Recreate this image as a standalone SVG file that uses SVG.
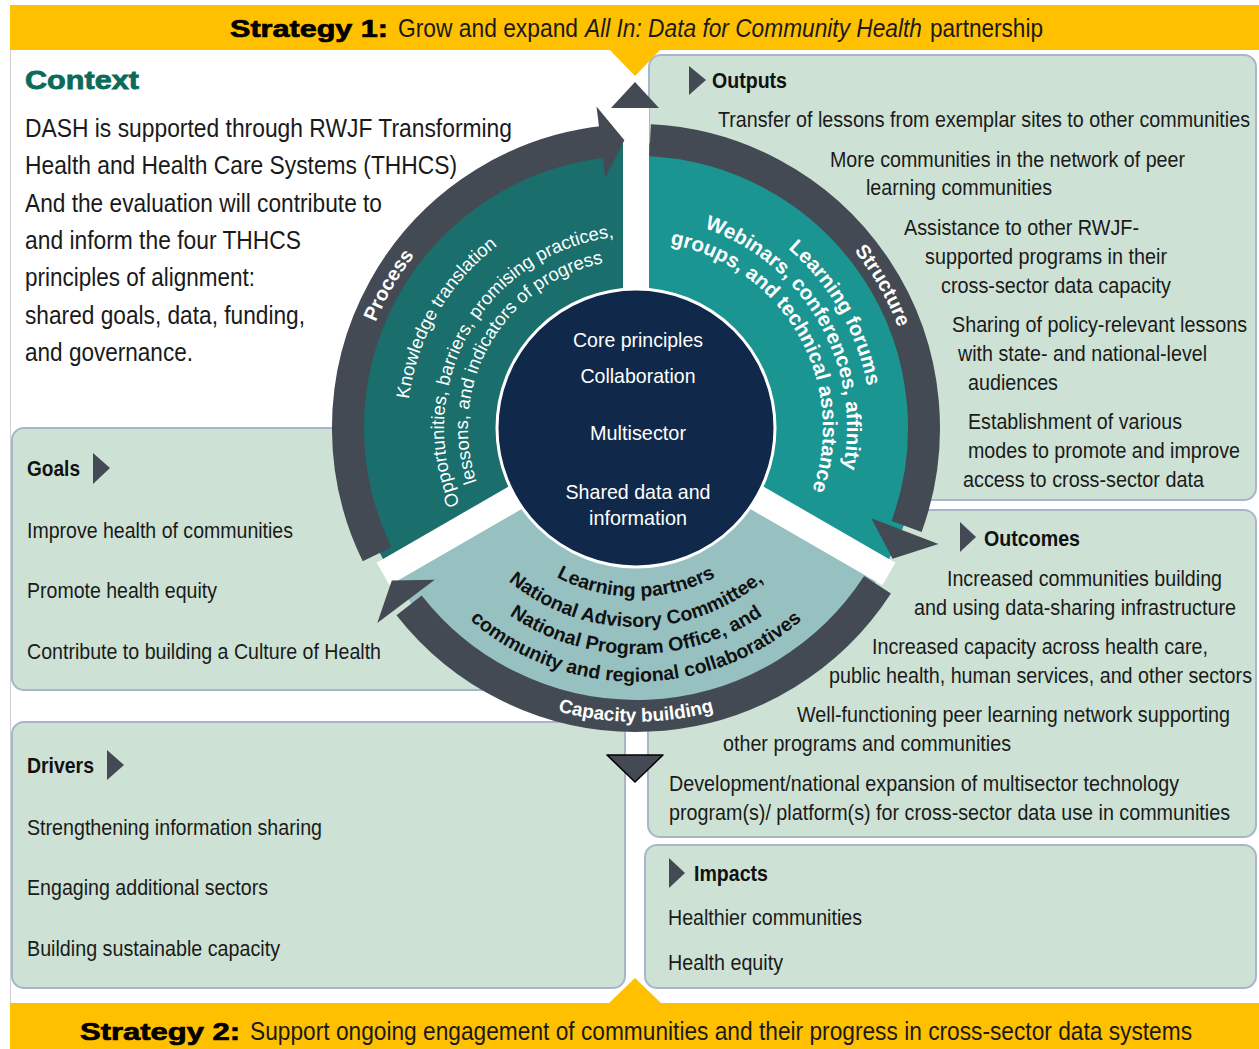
<svg xmlns="http://www.w3.org/2000/svg" width="1259" height="1049" viewBox="0 0 1259 1049">
<style>
.box{fill:#CDE2D4;stroke:#A8B6CC;stroke-width:2}
.t{font-family:"Liberation Sans Narrow","Liberation Sans",Arial,sans-serif;fill:#1a1a1a}
.f22{font-size:22px}
.f25{font-size:25px}
.hd{font-family:"Liberation Sans Narrow","Liberation Sans",Arial,sans-serif;font-weight:bold;font-size:22px;fill:#111}
.blk{font-family:"Liberation Sans",Arial,sans-serif;font-weight:bold;fill:#000;stroke:#000;stroke-width:0.7}
.mk{fill:#434A53}
.band{fill:none;stroke:#434A53;stroke-width:32}
.ah{fill:#434A53}
.gap{fill:#fff}
.wt{font-family:"Liberation Sans",Arial,sans-serif;fill:#fff}
.ct{font-family:"Liberation Sans Narrow","Liberation Sans",Arial,sans-serif;fill:#fff;font-size:21px;text-anchor:middle}
.cap{font-family:"Liberation Sans",Arial,sans-serif;fill:#111;font-weight:bold;font-size:19.5px}
</style>
<defs>
<path id="pr281" d="M455.4,643.2 A281,281 0 0 1 732.1,163.9"/>
<path id="pr229" d="M488.8,603.4 A229,229 0 0 1 714.3,212.8"/>
<path id="pr192" d="M512.6,575.1 A192,192 0 0 1 701.7,247.6"/>
<path id="pr168" d="M528.0,556.7 A168,168 0 0 1 693.5,270.1"/>
<path id="st281" d="M539.9,163.9 A281,281 0 0 1 816.6,643.2"/>
<path id="st235" d="M555.6,207.2 A235,235 0 0 1 787.1,608.0"/>
<path id="st211" d="M563.8,229.7 A211,211 0 0 1 771.6,589.6"/>
<path id="st187" d="M572.0,252.3 A187,187 0 0 1 756.2,571.2"/>
<path id="cp169" d="M469.6,457.3 A169,169 0 0 0 802.4,457.3"/>
<path id="cp199" d="M440.0,462.5 A199,199 0 0 0 832.0,462.5"/>
<path id="cp226" d="M413.4,467.2 A226,226 0 0 0 858.6,467.2"/>
<path id="cp254" d="M385.9,472.1 A254,254 0 0 0 886.1,472.1"/>
<path id="cp294" d="M346.5,479.0 A294,294 0 0 0 925.5,479.0"/>
</defs>

<rect x="0" y="0" width="1259" height="1049" fill="#fff"/>
<rect x="10.5" y="5.5" width="1260" height="1050" fill="none" stroke="#CFCFCF" stroke-width="1"/>

<!-- boxes -->
<g id="goals-box"><rect class="box" x="12" y="428" width="620" height="262" rx="12"/></g>
<g id="drivers-box"><rect class="box" x="12" y="722" width="613" height="266" rx="12"/></g>
<g id="outputs-box"><rect class="box" x="649" y="55" width="607" height="445" rx="12"/></g>
<g id="outcomes-box"><rect class="box" x="648" y="510" width="608" height="327" rx="12"/></g>
<g id="impacts-box"><rect class="box" x="645" y="845" width="611" height="143" rx="12"/></g>

<!-- banners -->
<g id="strategy1">
<rect x="10" y="5" width="1249" height="45" fill="#FFC000"/>
<polygon points="609,49 661,49 635,76" fill="#FFC000"/>
<text class="blk" x="230" y="37" font-size="24" textLength="158" lengthAdjust="spacingAndGlyphs">Strategy 1:</text>
<text class="t f25" x="398" y="37" fill="#111" textLength="180" lengthAdjust="spacingAndGlyphs">Grow and expand</text>
<text class="t f25" x="585" y="37" font-style="italic" textLength="337" lengthAdjust="spacingAndGlyphs">All In: Data for Community Health</text>
<text class="t f25" x="930" y="37" textLength="113" lengthAdjust="spacingAndGlyphs">partnership</text>
</g>
<g id="strategy2">
<rect x="10" y="1003" width="1249" height="46" fill="#FFC000"/>
<polygon points="608,1004 662,1004 635,978" fill="#FFC000"/>
<text class="blk" x="80" y="1040" font-size="24" textLength="160" lengthAdjust="spacingAndGlyphs">Strategy 2:</text>
<text class="t f25" x="250" y="1040" textLength="942" lengthAdjust="spacingAndGlyphs">Support ongoing engagement of communities and their progress in cross-sector data systems</text>
</g>

<!-- context -->
<g id="context">
<text x="25" y="89" font-family="Liberation Sans,Arial,sans-serif" font-weight="bold" font-size="26" fill="#0B6B5A" stroke="#0B6B5A" stroke-width="0.8" textLength="114" lengthAdjust="spacingAndGlyphs">Context</text>
<text class="t f25" x="25" y="137" textLength="487" lengthAdjust="spacingAndGlyphs">DASH is supported through RWJF Transforming</text>
<text class="t f25" x="25" y="174" textLength="432" lengthAdjust="spacingAndGlyphs">Health and Health Care Systems (THHCS)</text>
<text class="t f25" x="25" y="212" textLength="357" lengthAdjust="spacingAndGlyphs">And the evaluation will contribute to</text>
<text class="t f25" x="25" y="249" textLength="276" lengthAdjust="spacingAndGlyphs">and inform the four THHCS</text>
<text class="t f25" x="25" y="286" textLength="230" lengthAdjust="spacingAndGlyphs">principles of alignment:</text>
<text class="t f25" x="25" y="324" textLength="280" lengthAdjust="spacingAndGlyphs">shared goals, data, funding,</text>
<text class="t f25" x="25" y="361" textLength="168" lengthAdjust="spacingAndGlyphs">and governance.</text>
</g>

<!-- cycle -->
<g id="cycle">
<g id="segments">
<path d="M636,428 L636,143 A285,285 0 0 0 389.2,570.5 Z" fill="#1A6E6B"/>
<path d="M636,428 L636,143 A285,285 0 0 1 882.8,570.5 Z" fill="#1A9591"/>
<path d="M636,428 L882.8,570.5 A285,285 0 0 1 389.2,570.5 Z" fill="#97C0C1"/>
<rect class="gap" x="623" y="100" width="26" height="330"/>
<rect class="gap" x="0" y="-13" width="292" height="26" transform="translate(636,428) rotate(150)"/>
<rect class="gap" x="0" y="-13" width="292" height="26" transform="translate(636,428) rotate(30)"/>
</g>
<g id="core">
<circle cx="636" cy="428" r="139" fill="#10294A" stroke="#fff" stroke-width="3"/>
<text class="ct" x="638" y="347" textLength="130" lengthAdjust="spacingAndGlyphs">Core principles</text>
<text class="ct" x="638" y="383" textLength="115" lengthAdjust="spacingAndGlyphs">Collaboration</text>
<text class="ct" x="638" y="440" textLength="96" lengthAdjust="spacingAndGlyphs">Multisector</text>
<text class="ct" x="638" y="499" textLength="145" lengthAdjust="spacingAndGlyphs">Shared data and</text>
<text class="ct" x="638" y="525" textLength="98" lengthAdjust="spacingAndGlyphs">information</text>
</g>
<g id="process">
<path class="band" d="M377.1,554.3 A288,288 0 0 1 605.9,141.6"/>
<polygon class="ah" points="605.3,177.9 596.5,106.4 624.4,140.2"/>
<text class="wt" font-size="20" font-weight="bold"><textPath href="#pr281" startOffset="50%" text-anchor="middle">Process</textPath></text>
<text class="wt" font-size="18.5"><textPath href="#pr229" startOffset="50%" text-anchor="middle">Knowledge translation</textPath></text>
<text class="wt" font-size="18.5"><textPath href="#pr192" startOffset="50%" text-anchor="middle">Opportunities, barriers, promising practices,</textPath></text>
<text class="wt" font-size="18.5"><textPath href="#pr168" startOffset="50%" text-anchor="middle">lessons, and indicators of progress</textPath></text>
</g>
<g id="structure">
<path class="band" d="M650.1,140.3 A288,288 0 0 1 906.6,526.5"/>
<polygon class="ah" points="871.3,518.3 938.5,544.1 892.6,558.7"/>
<text class="wt" font-size="20" font-weight="bold"><textPath href="#st281" startOffset="50%" text-anchor="middle">Structure</textPath></text>
<text class="wt" font-size="20.5" font-weight="bold"><textPath href="#st235" startOffset="50%" text-anchor="middle">Learning forums</textPath></text>
<text class="wt" font-size="20.5" font-weight="bold"><textPath href="#st211" startOffset="50%" text-anchor="middle">Webinars, conferences, affinity</textPath></text>
<text class="wt" font-size="20.5" font-weight="bold"><textPath href="#st187" startOffset="50%" text-anchor="middle">groups, and technical assistance</textPath></text>
</g>
<g id="capacity">
<path class="band" d="M877.5,584.8 A288,288 0 0 1 409.1,605.3"/>
<polygon class="ah" points="434.8,579.7 377.3,623.0 391.8,580.6"/>
<text class="cap"><textPath href="#cp169" startOffset="50%" text-anchor="middle">Learning partners</textPath></text>
<text class="cap"><textPath href="#cp199" startOffset="50%" text-anchor="middle">National Advisory Committee,</textPath></text>
<text class="cap"><textPath href="#cp226" startOffset="50%" text-anchor="middle">National Program Office, and</textPath></text>
<text class="cap"><textPath href="#cp254" startOffset="50%" text-anchor="middle">community and regional collaboratives</textPath></text>
<text class="wt" font-size="19" font-weight="bold"><textPath href="#cp294" startOffset="50%" text-anchor="middle">Capacity building</textPath></text>
</g>
</g>

<!-- connectors -->
<g id="connectors">
<polygon points="611,108 659,108 635,82" fill="#434A53"/>
<polygon points="607,755 663,755 635,782" fill="#434A53" stroke="#000" stroke-width="1.5" stroke-linejoin="round"/>
</g>

<!-- outputs -->
<g id="outputs">
<polygon class="mk" points="689,66 706,80 689,95"/>
<text class="hd" x="712" y="88" textLength="75" lengthAdjust="spacingAndGlyphs">Outputs</text>
<text class="t f22" x="718" y="127" textLength="532" lengthAdjust="spacingAndGlyphs">Transfer of lessons from exemplar sites to other communities</text>
<text class="t f22" x="830" y="167" textLength="355" lengthAdjust="spacingAndGlyphs">More communities in the network of peer</text>
<text class="t f22" x="866" y="195" textLength="186" lengthAdjust="spacingAndGlyphs">learning communities</text>
<text class="t f22" x="904" y="235" textLength="235" lengthAdjust="spacingAndGlyphs">Assistance to other RWJF-</text>
<text class="t f22" x="925" y="264" textLength="242" lengthAdjust="spacingAndGlyphs">supported programs in their</text>
<text class="t f22" x="941" y="293" textLength="230" lengthAdjust="spacingAndGlyphs">cross-sector data capacity</text>
<text class="t f22" x="952" y="332" textLength="295" lengthAdjust="spacingAndGlyphs">Sharing of policy-relevant lessons</text>
<text class="t f22" x="958" y="361" textLength="249" lengthAdjust="spacingAndGlyphs">with state- and national-level</text>
<text class="t f22" x="968" y="390" textLength="90" lengthAdjust="spacingAndGlyphs">audiences</text>
<text class="t f22" x="968" y="429" textLength="214" lengthAdjust="spacingAndGlyphs">Establishment of various</text>
<text class="t f22" x="968" y="458" textLength="272" lengthAdjust="spacingAndGlyphs">modes to promote and improve</text>
<text class="t f22" x="963" y="487" textLength="241" lengthAdjust="spacingAndGlyphs">access to cross-sector data</text>
</g>

<!-- outcomes -->
<g id="outcomes">
<polygon class="mk" points="960,522 976,537 960,552"/>
<text class="hd" x="984" y="546" textLength="96" lengthAdjust="spacingAndGlyphs">Outcomes</text>
<text class="t f22" x="947" y="586" textLength="275" lengthAdjust="spacingAndGlyphs">Increased communities building</text>
<text class="t f22" x="914" y="615" textLength="322" lengthAdjust="spacingAndGlyphs">and using data-sharing infrastructure</text>
<text class="t f22" x="872" y="654" textLength="336" lengthAdjust="spacingAndGlyphs">Increased capacity across health care,</text>
<text class="t f22" x="829" y="683" textLength="423" lengthAdjust="spacingAndGlyphs">public health, human services, and other sectors</text>
<text class="t f22" x="797" y="722" textLength="433" lengthAdjust="spacingAndGlyphs">Well-functioning peer learning network supporting</text>
<text class="t f22" x="723" y="751" textLength="288" lengthAdjust="spacingAndGlyphs">other programs and communities</text>
<text class="t f22" x="669" y="791" textLength="510" lengthAdjust="spacingAndGlyphs">Development/national expansion of multisector technology</text>
<text class="t f22" x="669" y="820" textLength="561" lengthAdjust="spacingAndGlyphs">program(s)/ platform(s) for cross-sector data use in communities</text>
</g>

<!-- impacts -->
<g id="impacts">
<polygon class="mk" points="669,858 685,873 669,888"/>
<text class="hd" x="694" y="881" textLength="74" lengthAdjust="spacingAndGlyphs">Impacts</text>
<text class="t f22" x="668" y="925" textLength="194" lengthAdjust="spacingAndGlyphs">Healthier communities</text>
<text class="t f22" x="668" y="970" textLength="115" lengthAdjust="spacingAndGlyphs">Health equity</text>
</g>

<!-- goals -->
<g id="goals">
<polygon class="mk" points="93,453 110,468 93,484"/>
<text class="hd" x="27" y="476" textLength="53" lengthAdjust="spacingAndGlyphs">Goals</text>
<text class="t f22" x="27" y="538" textLength="266" lengthAdjust="spacingAndGlyphs">Improve health of communities</text>
<text class="t f22" x="27" y="598" textLength="190" lengthAdjust="spacingAndGlyphs">Promote health equity</text>
<text class="t f22" x="27" y="659" textLength="354" lengthAdjust="spacingAndGlyphs">Contribute to building a Culture of Health</text>
</g>

<!-- drivers -->
<g id="drivers">
<polygon class="mk" points="107,750 124,765 107,780"/>
<text class="hd" x="27" y="773" textLength="67" lengthAdjust="spacingAndGlyphs">Drivers</text>
<text class="t f22" x="27" y="835" textLength="295" lengthAdjust="spacingAndGlyphs">Strengthening information sharing</text>
<text class="t f22" x="27" y="895" textLength="241" lengthAdjust="spacingAndGlyphs">Engaging additional sectors</text>
<text class="t f22" x="27" y="956" textLength="253" lengthAdjust="spacingAndGlyphs">Building sustainable capacity</text>
</g>
</svg>
